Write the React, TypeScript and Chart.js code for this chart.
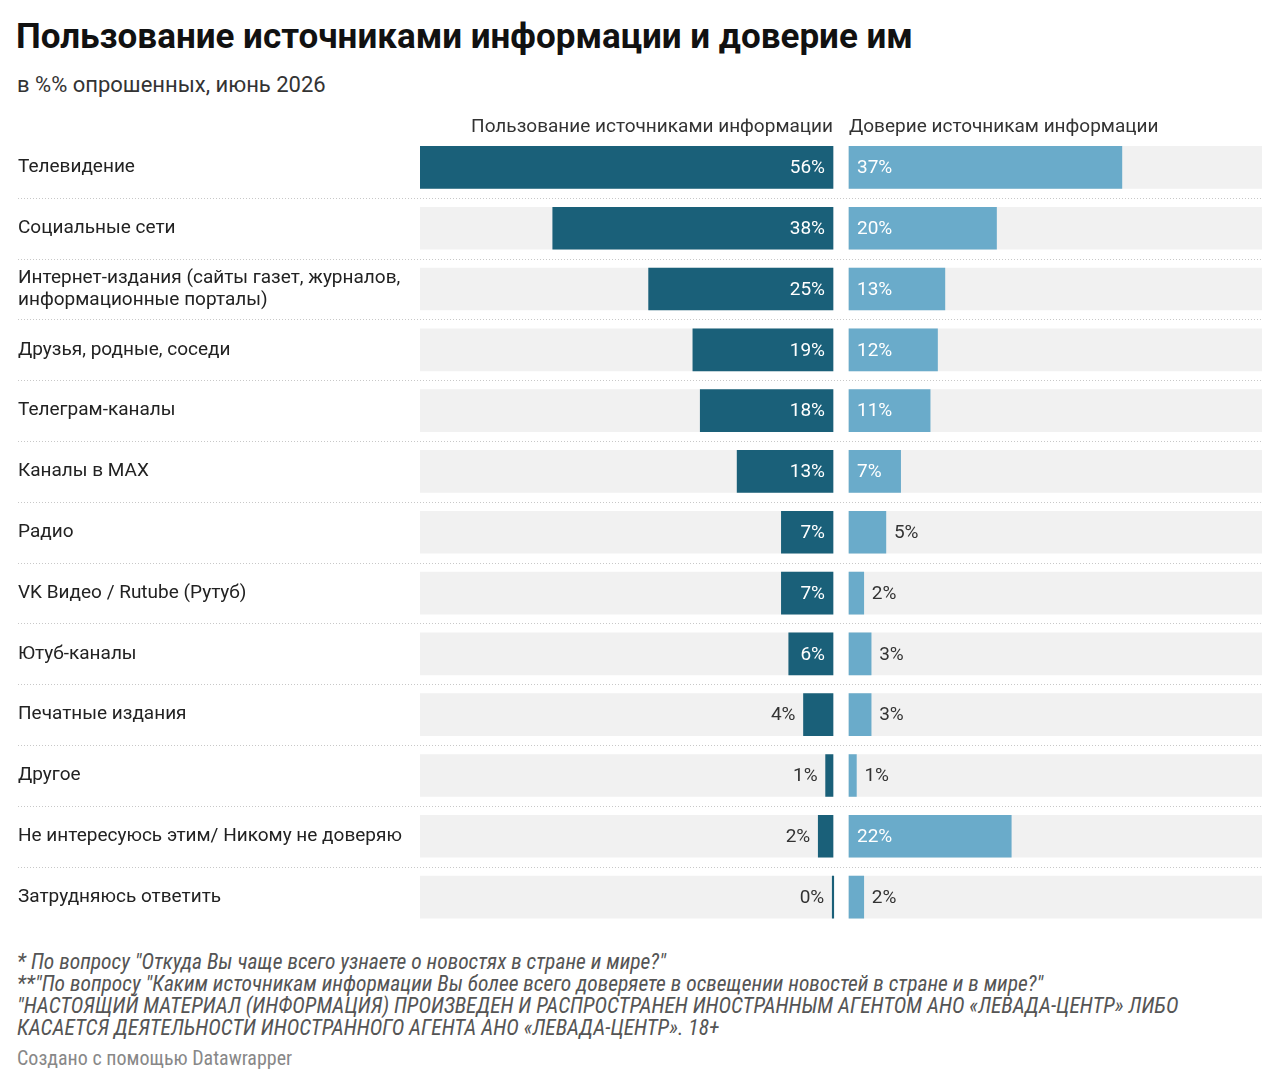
import { useEffect, useRef } from "react";
import { Chart, registerables } from "chart.js";
import type { Plugin } from "chart.js";

Chart.register(...registerables);

const categories: (string | string[])[] = [
  "Телевидение",
  "Социальные сети",
  ["Интернет-издания (сайты газет, журналов,", "информационные порталы)"],
  "Друзья, родные, соседи",
  "Телеграм-каналы",
  "Каналы в MAX",
  "Радио",
  "VK Видео / Rutube (Рутуб)",
  "Ютуб-каналы",
  "Печатные издания",
  "Другое",
  "Не интересуюсь этим/ Никому не доверяю",
  "Затрудняюсь ответить",
];

// % of respondents using each source
const usage = [56, 38, 25, 19, 18, 13, 7, 7, 6, 4, 1, 2, 0];
// % of respondents trusting each source
const trust = [37, 20, 13, 12, 11, 7, 5, 2, 3, 3, 1, 22, 2];

const usageTitle = "Пользование источниками информации";
const trustTitle = "Доверие источникам информации";

const scaleMax = 56;
// small negative min leaves the gap between the two columns
const scaleMin = -1.085;

const DARK = "#1a6079";
const LIGHT = "#6aabca";
const BG = "#f1f1f1";
const FONT = "Roboto, 'Noto Sans', sans-serif";

const headersPlugin: Plugin<"bar"> = {
  id: "columnHeaders",
  afterDraw(chart) {
    const { ctx, chartArea } = chart;
    const xl = chart.scales.xl;
    const xr = chart.scales.xr;
    ctx.save();
    ctx.font = `19px ${FONT}`;
    ctx.fillStyle = "#333";
    ctx.textBaseline = "middle";
    const y = chartArea.top - 9.5;
    ctx.textAlign = "right";
    ctx.fillText(usageTitle, xl.getPixelForValue(0), y);
    ctx.textAlign = "left";
    ctx.fillText(trustTitle, xr.getPixelForValue(0), y);
    ctx.restore();
  },
};

const separatorsPlugin: Plugin<"bar"> = {
  id: "rowSeparators",
  beforeDatasetsDraw(chart) {
    const { ctx, chartArea } = chart;
    const yScale = chart.scales.y;
    ctx.save();
    ctx.strokeStyle = "#c8c8c8";
    ctx.lineWidth = 1;
    ctx.setLineDash([1, 2]);
    for (let i = 1; i < categories.length; i++) {
      const y = Math.round((yScale.getPixelForTick(i - 1) + yScale.getPixelForTick(i)) / 2) + 0.5;
      ctx.beginPath();
      ctx.moveTo(18, y);
      ctx.lineTo(chartArea.right, y);
      ctx.stroke();
    }
    ctx.restore();
  },
};

const valueLabelsPlugin: Plugin<"bar"> = {
  id: "valueLabels",
  afterDatasetsDraw(chart) {
    const { ctx } = chart;
    ctx.save();
    ctx.font = `19px ${FONT}`;
    ctx.textBaseline = "middle";
    chart.data.datasets.forEach((ds, di) => {
      const side = (ds as any).side as string | undefined;
      if (!side) return;
      const meta = chart.getDatasetMeta(di);
      meta.data.forEach((el: any, i) => {
        const v = ds.data[i] as number;
        const text = `${v}%`;
        const w = ctx.measureText(text).width;
        const len = Math.abs(el.base - el.x);
        const inside = len >= w + 16;
        ctx.fillStyle = inside ? "#fff" : "#333";
        if (side === "left") {
          ctx.textAlign = "right";
          ctx.fillText(text, inside ? el.base - 8 : Math.min(el.x, el.base) - 8, el.y + 1);
        } else {
          ctx.textAlign = "left";
          ctx.fillText(text, inside ? el.base + 8 : Math.max(el.x, el.base) + 8, el.y + 1);
        }
      });
    });
    ctx.restore();
  },
};

function BarsChart() {
  const canvasRef = useRef<HTMLCanvasElement | null>(null);

  useEffect(() => {
    if (!canvasRef.current) return;
    const common = { grouped: false, barThickness: 42, borderWidth: 0 };
    const axisCommon = {
      type: "linear" as const,
      position: "top" as const,
      stack: "cols",
      stackWeight: 1,
      min: scaleMin,
      max: scaleMax,
      ticks: { display: false },
      grid: { display: false },
      border: { display: false },
    };
    const chart = new Chart(canvasRef.current, {
      type: "bar",
      data: {
        labels: categories as any,
        datasets: [
          { ...common, label: "usage-bg", data: categories.map(() => scaleMax), backgroundColor: BG, xAxisID: "xl", order: 2 },
          { ...common, label: "trust-bg", data: categories.map(() => scaleMax), backgroundColor: BG, xAxisID: "xr", order: 2 },
          { ...common, label: usageTitle, data: usage, backgroundColor: DARK, xAxisID: "xl", order: 1, minBarLength: 1.5, side: "left" } as any,
          { ...common, label: trustTitle, data: trust, backgroundColor: LIGHT, xAxisID: "xr", order: 1, side: "right" } as any,
        ],
      },
      options: {
        indexAxis: "y",
        responsive: true,
        maintainAspectRatio: false,
        animation: false,
        layout: { padding: { left: 18, right: 18, top: 29, bottom: 2.5 } },
        plugins: { legend: { display: false }, tooltip: { enabled: false } },
        scales: {
          // top boxes in a stack are laid out in reverse order, so the right column comes first
          xr: { ...axisCommon },
          xl: { ...axisCommon, reverse: true },
          y: {
            type: "category",
            ticks: {
              autoSkip: false,
              crossAlign: "far",
              padding: 0,
              color: "#222",
              font: { family: FONT, size: 19, lineHeight: 22 / 19 },
            },
            grid: { display: false },
            border: { display: false },
            afterFit: (scale: any) => {
              scale.width = 402;
              scale.paddingTop = 0;
              scale.paddingBottom = 0;
            },
          },
        },
      },
      plugins: [separatorsPlugin, valueLabelsPlugin, headersPlugin],
    });
    return () => chart.destroy();
  }, []);

  return (
    <div style={{ position: "absolute", left: 0, top: 100, width: 1280, height: 830 }}>
      <canvas ref={canvasRef} />
    </div>
  );
}

export default function App() {
  const noteFont = "'Roboto Condensed', 'Liberation Sans Narrow', 'Arial Narrow', Roboto, sans-serif";
  return (
    <div style={{ position: "absolute", left: 0, top: 0, width: 1280, height: 1085, background: "#fff", fontFamily: FONT }}>
      <div style={{ position: "absolute", left: 16, top: 15, fontSize: 35, fontWeight: 700, color: "#111", lineHeight: "44px", whiteSpace: "nowrap" }}>
        Пользование источниками информации и доверие им
      </div>
      <div style={{ position: "absolute", left: 17, top: 71, fontSize: 22, color: "#333", lineHeight: "28px", whiteSpace: "nowrap" }}>
        в %% опрошенных, июнь 2026
      </div>
      <BarsChart />
      <div style={{ position: "absolute", left: 17, top: 951, fontFamily: noteFont, fontStyle: "italic", fontSize: 21.5, lineHeight: "22px", color: "#555", whiteSpace: "nowrap" }}>
        <div>* По вопросу "Откуда Вы чаще всего узнаете о новостях в стране и мире?"</div>
        <div>**"По вопросу "Каким источникам информации Вы более всего доверяете в освещении новостей в стране и в мире?"</div>
        <div>"НАСТОЯЩИЙ МАТЕРИАЛ (ИНФОРМАЦИЯ) ПРОИЗВЕДЕН И РАСПРОСТРАНЕН ИНОСТРАННЫМ АГЕНТОМ АНО «ЛЕВАДА-ЦЕНТР» ЛИБО</div>
        <div>КАСАЕТСЯ ДЕЯТЕЛЬНОСТИ ИНОСТРАННОГО АГЕНТА АНО «ЛЕВАДА-ЦЕНТР». 18+</div>
      </div>
      <div style={{ position: "absolute", left: 17, top: 1047, fontFamily: noteFont, fontSize: 20, lineHeight: "22px", color: "#888", whiteSpace: "nowrap" }}>
        Создано с помощью Datawrapper
      </div>
    </div>
  );
}
